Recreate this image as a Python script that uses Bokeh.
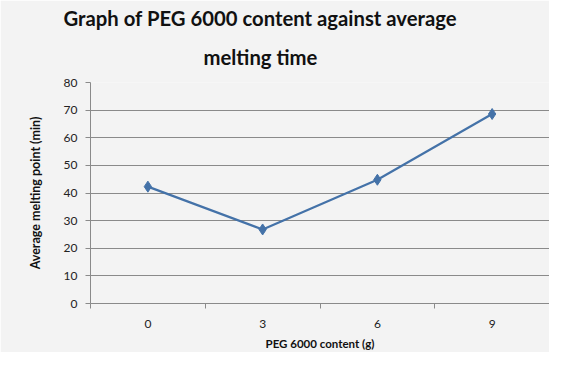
from bokeh.plotting import figure
from bokeh.models import FixedTicker, Title, Range1d
from bokeh.embed import file_html
from bokeh.resources import INLINE

# Data
peg_content = [0, 3, 6, 9]
melting_time = [42.3, 26.8, 44.8, 68.6]
y_ticks = [0, 10, 20, 30, 40, 50, 60, 70, 80]
x_bounds = [-1.5, 1.5, 4.5, 7.5, 10.5]
title_lines = ["Graph of  PEG 6000 content against average", "melting time"]

BG = "#f3f3f3"
GRID = "#8a8a8a"
LINE = "#4472a8"

p = figure(width=549, height=352, output_backend="svg", toolbar_location=None,
           x_range=Range1d(-1.5, 10.5), y_range=Range1d(0, 80),
           min_border_left=90, min_border_right=0, min_border_top=82, min_border_bottom=44)
p.title = None
p.background_fill_color = BG
p.border_fill_color = BG
p.outline_line_color = None

p.line(peg_content, melting_time, line_color=LINE, line_width=2.2)
p.scatter(peg_content, melting_time, marker="diamond", size=11, fill_color=LINE, line_color=LINE)

# x axis
xa = p.xaxis[0]
xa.ticker = FixedTicker(ticks=peg_content, minor_ticks=x_bounds)
xa.major_tick_line_color = None
xa.minor_tick_line_color = GRID
xa.minor_tick_in = 0
xa.minor_tick_out = 5
xa.axis_line_color = GRID
xa.major_label_text_font = "Lato"
xa.major_label_text_font_size = "12px"
xa.major_label_text_color = "#222222"
xa.major_label_standoff = 10
xa.axis_label = "PEG 6000 content (g)"
xa.axis_label_text_font = "Lato"
xa.axis_label_text_font_style = "bold"
xa.axis_label_text_font_size = "11.5px"
xa.axis_label_text_color = "#111111"
xa.axis_label_standoff = 6

# y axis
ya = p.yaxis[0]
ya.ticker = FixedTicker(ticks=y_ticks)
ya.minor_tick_line_color = None
ya.major_tick_line_color = GRID
ya.major_tick_in = 0
ya.major_tick_out = 5
ya.axis_line_color = GRID
ya.major_label_text_font = "Lato"
ya.major_label_text_font_size = "12px"
ya.major_label_text_color = "#222222"
ya.major_label_standoff = 8
ya.axis_label = "Average melting point (min)"
ya.axis_label_text_font = "Lato"
ya.axis_label_text_font_style = "bold"
ya.axis_label_text_font_size = "12.5px"
ya.axis_label_text_color = "#111111"
ya.axis_label_standoff = 18

p.xgrid.grid_line_color = None
p.ygrid.ticker = FixedTicker(ticks=y_ticks)
p.ygrid.grid_line_color = GRID

# Title lines
t2 = Title(text=title_lines[1], align="left", offset=113, text_font="Lato",
           text_font_style="bold", text_font_size="20.3px", text_color="#111111",
           standoff=27)
t1 = Title(text=title_lines[0], align="left", offset=-27, text_font="Lato",
           text_font_style="bold", text_font_size="20.3px", text_color="#111111",
           standoff=0)
p.add_layout(t2, "above")
p.add_layout(t1, "above")

open("out.html", "w").write(file_html(p, INLINE))
